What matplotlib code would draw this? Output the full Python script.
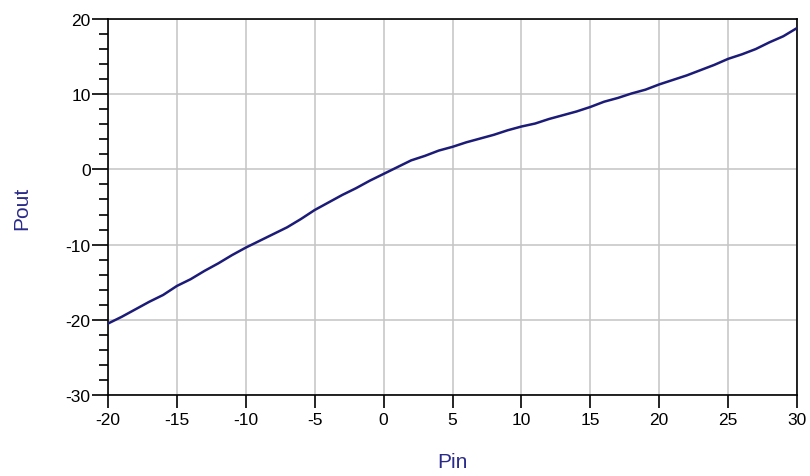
import matplotlib
matplotlib.use('Agg')
from matplotlib import pyplot as plt
from matplotlib.ticker import MultipleLocator

# Pin (dBm) vs Pout (dBm)
pin = list(range(-20, 31))
pout = [-20.5, -19.6, -18.6, -17.6, -16.7, -15.5, -14.6, -13.5, -12.5, -11.4,
        -10.4, -9.5, -8.6, -7.7, -6.6, -5.4, -4.4, -3.4, -2.5, -1.5,
        -0.6, 0.3, 1.2, 1.8, 2.5, 3.0, 3.6, 4.1, 4.6, 5.2,
        5.7, 6.1, 6.7, 7.2, 7.7, 8.3, 9.0, 9.5, 10.1, 10.6,
        11.3, 11.9, 12.5, 13.2, 13.9, 14.7, 15.3, 16.0, 16.9, 17.7,
        18.8]

plt.rcParams['font.family'] = ['Liberation Sans', 'DejaVu Sans']
plt.rcParams['axes.unicode_minus'] = False

fig = plt.figure(figsize=(8.1, 4.77), dpi=100)
ax = fig.add_axes([0.1333, 0.1698, 0.8507, 0.7883])

ax.plot(pin, pout, color='#1c1c78', lw=1.8, zorder=3)

ax.set_xlim(-20, 30)
ax.set_ylim(-30, 20)
ax.xaxis.set_major_locator(MultipleLocator(5))
ax.yaxis.set_major_locator(MultipleLocator(10))
ax.yaxis.set_minor_locator(MultipleLocator(2))
ax.grid(True, which='major', color='#c4c4c4', lw=1.1)
ax.set_axisbelow(True)

for s in ax.spines.values():
    s.set_color('black')
    s.set_linewidth(1.2)

ax.tick_params(axis='x', which='major', length=9, width=1.2, labelsize=12.5, pad=3)
ax.tick_params(axis='y', which='major', length=11.5, width=1.2, labelsize=12.5, pad=1)
ax.tick_params(axis='y', which='minor', length=6.5, width=1.2)

ax.set_xlabel('Pin', color='#2a2a8a', fontsize=15, labelpad=18)
ax.set_ylabel('Pout', color='#2a2a8a', fontsize=15, labelpad=25)

fig.savefig('out.png', dpi=100)
